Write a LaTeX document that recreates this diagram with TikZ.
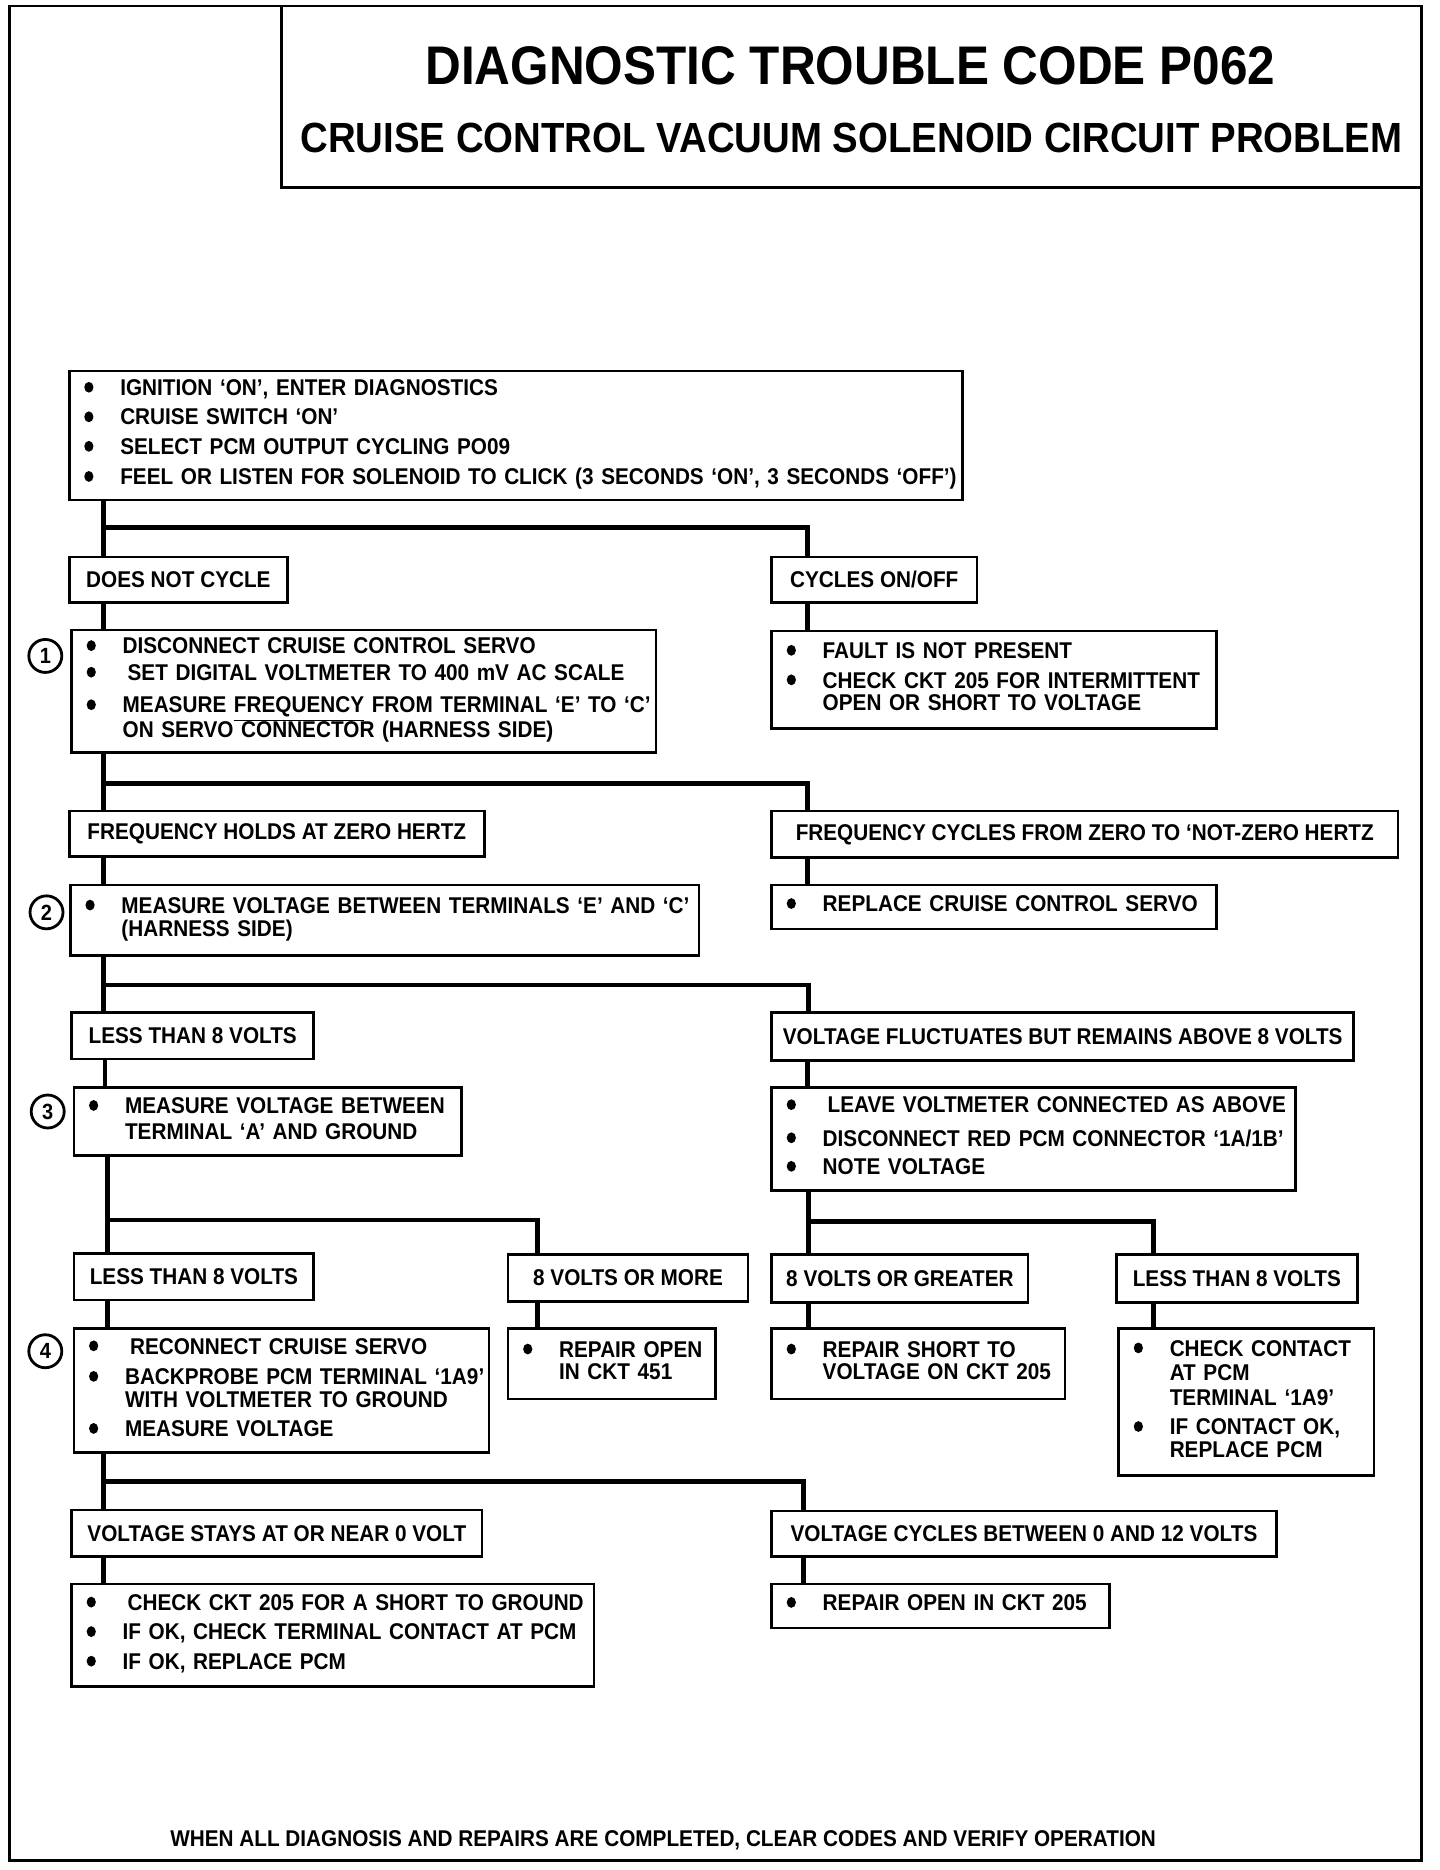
\documentclass[tikz,border=0pt]{standalone}
\usepackage{fontspec}
\setmainfont{Liberation Sans}[FakeStretch=0.91]
\newcommand{\pxu}{0.5965pt}
\newcommand{\bul}{\tikz[baseline=-4.1pt]{\fill (0,0) ellipse[x radius=2.3pt,y radius=2.7pt];}}
\newenvironment{blist}{\renewcommand{\arraystretch}{0.8}\begin{tabular}{@{}p{18pt}@{}l@{}}}{\end{tabular}}

\begin{document}
\begin{tikzpicture}[x=\pxu,y=-\pxu,font=\bfseries\fontsize{11.4}{13.8}\selectfont,
  lbl/.style 2 args={draw,line width=1.3pt,anchor=north west,inner sep=0pt,
    minimum width=#1*\pxu,minimum height=#2*\pxu},
  stepbox/.style 2 args={draw,line width=1.3pt,anchor=north west,inner xsep=7.5pt,inner ysep=0pt,
    align=left,text width=#1*\pxu-15pt,minimum height=#2*\pxu},
  num/.style={circle,draw,line width=1.4pt,minimum size=16.5pt,inner sep=0pt,
    font=\bfseries\fontsize{11}{11}\selectfont},
  link/.style={line width=2.4pt}]
\fill[white] (0,0) rectangle (1207,1568);
\useasboundingbox (0,0) rectangle (1207,1568);
% frame and title
\draw[line width=1.3pt] (8,5) rectangle (1192,1560);
\draw[line width=1.6pt] (236,5) |- (1192,157);
\node[font=\bfseries\fontsize{27.2}{30}\selectfont] (ttl) at (713,55) {DIAGNOSTIC TROUBLE CODE P062};
\node[font=\bfseries\fontsize{21.1}{24}\selectfont] (sub) at (714,116) {CRUISE CONTROL VACUUM SOLENOID CIRCUIT PROBLEM};

% start
\node[stepbox={749}{108}] (a) at (57,310) {\begin{blist}
\bul & IGNITION `ON', ENTER DIAGNOSTICS\\[3.5pt]
\bul & CRUISE SWITCH `ON'\\[3.5pt]
\bul & SELECT PCM OUTPUT CYCLING PO09\\[3.5pt]
\bul & FEEL OR LISTEN FOR SOLENOID TO CLICK (3 SECONDS `ON', 3 SECONDS `OFF')
\end{blist}};

% level 1
\node[lbl={183}{38}] (dnc) at (57,466) {DOES NOT CYCLE};
\node[lbl={172}{38}] (cyc) at (646,466) {CYCLES ON/OFF};
\node[num] (c1) at (38,550) {1};
\node[stepbox={490}{103}] (s1) at (59,527) {\begin{blist}
\bul & DISCONNECT CRUISE CONTROL SERVO\\[2pt]
\bul & \hspace{2.5pt}SET DIGITAL VOLTMETER TO 400 mV AC SCALE\\[5pt]
\bul & MEASURE \underline{FREQUENCY} FROM TERMINAL `E' TO `C'\\
 & ON SERVO CONNECTOR (HARNESS SIDE)
\end{blist}};
\node[stepbox={373}{82}] (flt) at (646,528) {\begin{blist}
\bul & FAULT IS NOT PRESENT\\[3.5pt]
\bul & CHECK CKT 205 FOR INTERMITTENT\\
 & OPEN OR SHORT TO VOLTAGE
\end{blist}};

% level 2
\node[lbl={348}{38}] (fhz) at (57,679) {FREQUENCY HOLDS AT ZERO HERTZ};
\node[lbl={525}{39}] (fcz) at (646,679) {FREQUENCY CYCLES FROM ZERO TO `NOT-ZERO HERTZ};
\node[num] (c2) at (39,765) {2};
\node[stepbox={527}{59}] (s2) at (58,741) {\begin{blist}
\bul & MEASURE VOLTAGE BETWEEN TERMINALS `E' AND `C'\\
 & (HARNESS SIDE)
\end{blist}};
\node[stepbox={373}{37}] (rsv) at (646,741) {\begin{blist}
\bul & REPLACE CRUISE CONTROL SERVO
\end{blist}};

% level 3
\node[lbl={203}{39}] (lt8a) at (59,848) {LESS THAN 8 VOLTS};
\node[lbl={488}{40}] (vfl) at (646,848) {VOLTAGE FLUCTUATES BUT REMAINS ABOVE 8 VOLTS};
\node[num] (c3) at (40,932) {3};
\node[stepbox={325}{57}] (s3) at (61,911) {\begin{blist}
\bul & MEASURE VOLTAGE BETWEEN\\[1.5pt]
 & TERMINAL `A' AND GROUND
\end{blist}};
\node[stepbox={439}{86}] (lv) at (646,911) {\begin{blist}
\bul & \hspace{2.5pt}LEAVE VOLTMETER CONNECTED AS ABOVE\\[5pt]
\bul & DISCONNECT RED PCM CONNECTOR `1A/1B'\\[3pt]
\bul & NOTE VOLTAGE
\end{blist}};

% level 4
\node[lbl={201}{39}] (lt8b) at (61,1050) {LESS THAN 8 VOLTS};
\node[lbl={201}{39}] (v8m) at (425,1051) {8 VOLTS OR MORE};
\node[lbl={215}{40}] (v8g) at (646,1051) {8 VOLTS OR GREATER};
\node[lbl={202}{40}] (lt8c) at (935,1051) {LESS THAN 8 VOLTS};
\node[num] (c4) at (38,1133) {4};
\node[stepbox={348}{104}] (s4) at (61,1113) {\begin{blist}
\bul & \hspace{2.5pt}RECONNECT CRUISE SERVO\\[4pt]
\bul & BACKPROBE PCM TERMINAL `1A9'\\
 & WITH VOLTMETER TO GROUND\\[3.5pt]
\bul & MEASURE VOLTAGE
\end{blist}};
\node[stepbox={174}{59}] (rpo) at (425,1113) {\begin{blist}
\bul & REPAIR OPEN\\
 & IN CKT 451
\end{blist}};
\node[stepbox={246}{59}] (rps) at (646,1113) {\begin{blist}
\bul & REPAIR SHORT TO\\
 & VOLTAGE ON CKT 205
\end{blist}};
\node[stepbox={214}{123}] (chk) at (937,1113) {\begin{blist}
\bul & CHECK CONTACT\\[1pt]
 & AT PCM\\[1pt]
 & TERMINAL `1A9'\\[3.5pt]
\bul & IF CONTACT OK,\\
 & REPLACE PCM
\end{blist}};

% level 5
\node[lbl={344}{39}] (vst) at (59,1265) {VOLTAGE STAYS AT OR NEAR 0 VOLT};
\node[lbl={423}{38}] (vcy) at (646,1266) {VOLTAGE CYCLES BETWEEN 0 AND 12 VOLTS};
\node[stepbox={438}{86}] (s5) at (59,1327) {\begin{blist}
\bul & \hspace{2.5pt}CHECK CKT 205 FOR A SHORT TO GROUND\\[3.5pt]
\bul & IF OK, CHECK TERMINAL CONTACT AT PCM\\[3.5pt]
\bul & IF OK, REPLACE PCM
\end{blist}};
\node[stepbox={283}{37}] (rpo2) at (646,1327) {\begin{blist}
\bul & REPAIR OPEN IN CKT 205
\end{blist}};

\node (foot) at (556,1543) {WHEN ALL DIAGNOSIS AND REPAIRS ARE COMPLETED, CLEAR CODES AND VERIFY OPERATION};

% branches
\foreach \p/\l/\r/\y/\xl/\xr in {a/dnc/cyc/442/87/677, s1/fhz/fcz/657/87/677,
  s2/lt8a/vfl/826/87/678, s3/lt8b/v8m/1023/90/451, lv/v8g/lt8c/1024/678/967,
  s4/vst/vcy/1242/87/674}{
  \coordinate (jl) at (\xl,\y);
  \coordinate (jr) at (\xr,\y);
  \draw[link] (\p.south -| jl) -- (\l.north -| jl);
  \draw[link] (jl) -- (jr) -- (\r.north -| jr);
}
% straight links
\foreach \up/\dn/\x in {dnc/s1/87, cyc/flt/677, fhz/s2/87, fcz/rsv/677, lt8a/s3/88,
  vfl/lv/677, lt8b/s4/90, v8m/rpo/451, v8g/rps/678, lt8c/chk/967, vst/s5/87, vcy/rpo2/674}{
  \coordinate (jc) at (\x,0);
  \draw[link] (\up.south -| jc) -- (\dn.north -| jc);
}
\end{tikzpicture}
\end{document}
